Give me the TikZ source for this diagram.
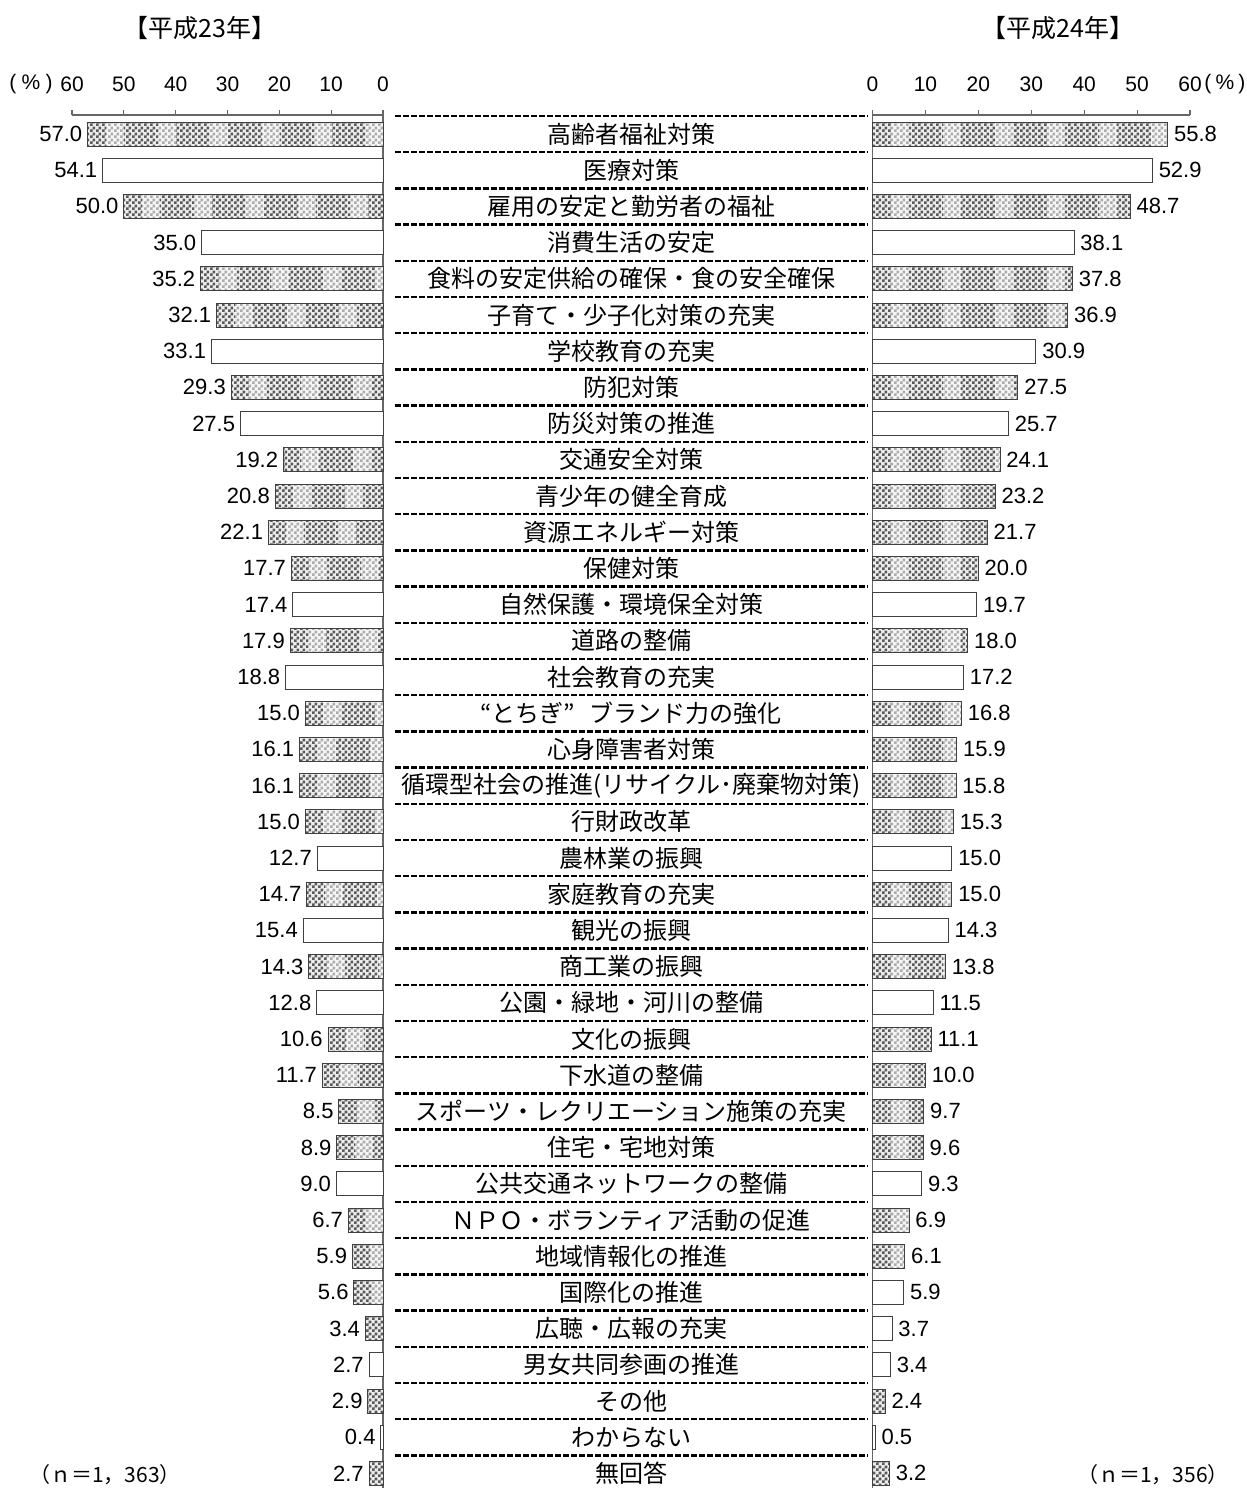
\documentclass[tikz,border=0pt]{standalone}
\usepackage{fontspec}
\setmainfont{Liberation Sans}
\newfontfamily\jp{Noto Sans CJK JP}
\usetikzlibrary{patterns}
\pgfdeclarepatternformonly{finecheck}{\pgfpointorigin}{\pgfqpoint{3pt}{3pt}}{\pgfqpoint{3pt}{3pt}}{%
  \pgfpathrectangle{\pgfpointorigin}{\pgfqpoint{1.5pt}{1.5pt}}%
  \pgfpathrectangle{\pgfqpoint{1.5pt}{1.5pt}}{\pgfqpoint{1.5pt}{1.5pt}}%
  \pgfusepath{fill}}
\begin{document}
\begin{tikzpicture}[x=0.5pt,y=-0.5pt,
  barw/.style={draw=black!75, line width=0.5pt, fill=white},
  barp/.style={draw=black!75, line width=0.5pt, fill=gray!15,
    postaction={pattern=finecheck, pattern color=black!65},
    postaction={path picture={
      \foreach \b in {0,...,12}{
        \fill[white,opacity=0.5] ([xshift=\b*26pt+9pt]path picture bounding box.south west) rectangle ++(9pt,14pt);
      }}},
    postaction={draw=black!75, line width=0.5pt}},
  axisline/.style={draw=black!60, line width=0.6pt},
  sep/.style={draw=black, line width=1.2pt, dash pattern=on 3pt off 1pt},
  lab/.style={font=\jp\fontsize{12pt}{14pt}\selectfont, inner sep=0pt},
  val/.style={font=\fontsize{11pt}{13pt}\selectfont, inner sep=0pt},
  tick/.style={font=\fontsize{10.5pt}{12pt}\selectfont, inner sep=0pt},
  ttl/.style={font=\jp\fontsize{12.5pt}{14pt}\selectfont, inner sep=0pt},
  pct/.style={font=\fontsize{10.5pt}{12pt}\selectfont, inner sep=0pt},
  note/.style={font=\jp\fontsize{10.5pt}{12pt}\selectfont, inner sep=0pt}]
\useasboundingbox (0,0) rectangle (1247,1488);
\fill[white] (0,0) rectangle (1247,1488);

% titles
\node[ttl] (t1) at (200,28) {【平成23年】};
\node[ttl] (t2) at (1058,28) {【平成24年】};

% axes
\coordinate (L0) at (383,115);
\coordinate (L60) at (72,115);
\coordinate (R0) at (872.5,115);
\coordinate (R60) at (1190,115);
\coordinate (Lb) at (383,1488);
\coordinate (Rb) at (872.5,1488);
\draw[axisline] (L60) -- (L0) -- (Lb);
\draw[axisline] (R0) -- (R60);
\draw[axisline] (R0) -- (Rb);
\foreach \k in {0,...,6}{
  \draw[axisline] ({383-\k*51.83},115) -- ({383-\k*51.83},110);
  \draw[axisline] ({872.5+\k*52.92},115) -- ({872.5+\k*52.92},110);
  \pgfmathtruncatemacro\tv{\k*10}
  \node[tick] (lt\k) at ({383-\k*51.83},84) {\tv};
  \node[tick] (rt\k) at ({872.5+\k*52.92},84) {\tv};
}
\node[pct] (lpc) at (31,84) {(\hspace{0.25em}\%\hspace{0.25em})};
\node[pct,anchor=west] (rpc) at (1204,84) {(\hspace{0.2em}\%\hspace{0.2em})};

% separators
\foreach \k in {0,...,37}{
  \coordinate (sa\k) at (395,{116+36.2*\k});
  \coordinate (sb\k) at (868,{116+36.2*\k});
  \draw[sep] (sa\k) -- (sb\k);
}

% rows
\foreach \i/\lbl/\lv/\lp/\rv/\rp in {
0/高齢者福祉対策/57.0/p/55.8/p,
1/医療対策/54.1/w/52.9/w,
2/雇用の安定と勤労者の福祉/50.0/p/48.7/p,
3/消費生活の安定/35.0/w/38.1/w,
4/食料の安定供給の確保・食の安全確保/35.2/p/37.8/p,
5/子育て・少子化対策の充実/32.1/p/36.9/p,
6/学校教育の充実/33.1/w/30.9/w,
7/防犯対策/29.3/p/27.5/p,
8/防災対策の推進/27.5/w/25.7/w,
9/交通安全対策/19.2/p/24.1/p,
10/青少年の健全育成/20.8/p/23.2/p,
11/資源エネルギー対策/22.1/p/21.7/p,
12/保健対策/17.7/p/20.0/p,
13/自然保護・環境保全対策/17.4/w/19.7/w,
14/道路の整備/17.9/p/18.0/p,
15/社会教育の充実/18.8/w/17.2/w,
16/“とちぎ”\hspace{0.6em}ブランド力の強化/15.0/p/16.8/p,
17/心身障害者対策/16.1/p/15.9/p,
18/循環型社会の推進(リサイクル･廃棄物対策)/16.1/p/15.8/p,
19/行財政改革/15.0/p/15.3/p,
20/農林業の振興/12.7/w/15.0/w,
21/家庭教育の充実/14.7/p/15.0/p,
22/観光の振興/15.4/w/14.3/w,
23/商工業の振興/14.3/p/13.8/p,
24/公園・緑地・河川の整備/12.8/w/11.5/w,
25/文化の振興/10.6/p/11.1/p,
26/下水道の整備/11.7/p/10.0/p,
27/スポーツ・レクリエーション施策の充実/8.5/p/9.7/p,
28/住宅・宅地対策/8.9/p/9.6/p,
29/公共交通ネットワークの整備/9.0/w/9.3/w,
30/ＮＰＯ・ボランティア活動の促進/6.7/p/6.9/p,
31/地域情報化の推進/5.9/p/6.1/p,
32/国際化の推進/5.6/p/5.9/w,
33/広聴・広報の充実/3.4/p/3.7/w,
34/男女共同参画の推進/2.7/w/3.4/w,
35/その他/2.9/p/2.4/p,
36/わからない/0.4/w/0.5/w,
37/無回答/2.7/p/3.2/p}{
  \pgfmathsetmacro\yy{134+36.2*\i}
  \pgfmathsetmacro\xl{383-\lv*5.183}
  \pgfmathsetmacro\xr{872.5+\rv*5.29}
  \path[bar\lp] (\xl,\yy-12) rectangle (383,\yy+12);
  \path[bar\rp] (872.5,\yy-12) rectangle (\xr,\yy+12);
  \node[lab] (lab\i) at (631,\yy) {\lbl};
  \node[val,anchor=east] (lv\i) at (\xl-5,\yy) {\lv};
  \node[val,anchor=west] (rv\i) at (\xr+6,\yy) {\rv};
}

% n labels
\node[note] (nl) at (105,1475) {（ｎ＝1，363）};
\node[note] (nr) at (1153,1475) {（ｎ＝1，356）};
\end{tikzpicture}
\end{document}
